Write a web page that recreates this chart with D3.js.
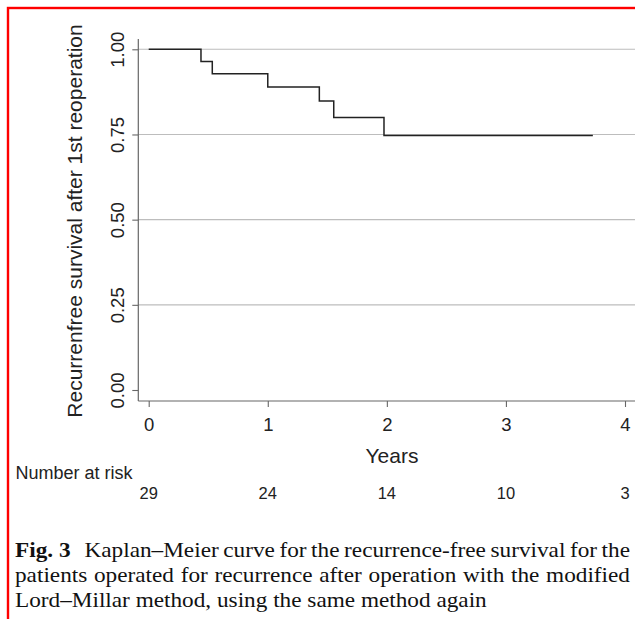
<!DOCTYPE html>
<html>
<head>
<meta charset="utf-8">
<script src="https://cdn.jsdelivr.net/npm/d3@7"></script>
<style>
  html, body { margin: 0; padding: 0; background: #fff; }
  svg { display: block; }
</style>
</head>
<body>
<div id="chart"></div>
<script>
"use strict";
// Kaplan-Meier step points
const years = [0, 0.439, 0.534, 1.0, 1.433, 1.554, 1.976, 3.73];
const survival = [1, 0.964, 0.928, 0.889, 0.848, 0.800, 0.747, 0.747];
const xTicks = [0, 1, 2, 3, 4];
const yTicks = [0, 0.25, 0.5, 0.75, 1];
const riskTimes = [0, 1, 2, 3, 4];
const atRisk = [29, 24, 14, 10, 3];
const captionLines = [
    "Kaplan\u2013Meier curve for the recurrence-free survival for the",
    "patients operated for recurrence after operation with the modified",
    "Lord\u2013Millar method, using the same method again"
];

const W = 635, H = 619;
const sans = "'Liberation Sans', Arial, Helvetica, sans-serif";
const serif = "'Liberation Serif', 'Times New Roman', Times, serif";

const svg = d3.select("#chart").append("svg")
    .attr("width", W)
    .attr("height", H)
    .attr("viewBox", `0 0 ${W} ${H}`);

// plot region (axis lines)
const plot = { left: 138.3, right: 640, top: 39, bottom: 401 };

const x = d3.scaleLinear().domain([0, 4]).range([148.7, 625]);
const y = d3.scaleLinear().domain([0, 1]).range([390, 49.3]);

// grid lines
svg.append("g").selectAll("line")
    .data(yTicks.filter(d => d > 0))
    .join("line")
    .attr("x1", plot.left).attr("x2", plot.right)
    .attr("y1", d => y(d)).attr("y2", d => y(d))
    .attr("stroke", "#bdbdbd")
    .attr("stroke-width", 1.1);

// y axis
const yAxis = svg.append("g")
    .attr("transform", `translate(${plot.left},0)`)
    .call(d3.axisLeft(y).tickValues(yTicks).tickFormat(d3.format(".2f")).tickSize(6).tickSizeOuter(0));
yAxis.select(".domain").remove();
yAxis.selectAll(".tick line").attr("stroke", "#666").attr("stroke-width", 1.1);
yAxis.selectAll(".tick text")
    .attr("transform", "rotate(-90)")
    .attr("x", 0).attr("y", -14.5).attr("dy", null)
    .attr("text-anchor", "middle")
    .attr("fill", "#222")
    .style("font-family", sans).style("font-size", "18.5px");

// x axis
const xAxis = svg.append("g")
    .attr("transform", `translate(0,${plot.bottom})`)
    .call(d3.axisBottom(x).tickValues(xTicks).tickFormat(d3.format("d")).tickSize(6).tickSizeOuter(0));
xAxis.select(".domain").remove();
xAxis.selectAll(".tick line").attr("stroke", "#666").attr("stroke-width", 1.1);
xAxis.selectAll(".tick text")
    .attr("y", 30).attr("dy", null)
    .attr("fill", "#222")
    .style("font-family", sans).style("font-size", "18.5px");

// axis lines
svg.append("line")
    .attr("x1", plot.left).attr("x2", plot.left)
    .attr("y1", plot.top).attr("y2", plot.bottom)
    .attr("stroke", "#666").attr("stroke-width", 1.2);
svg.append("line")
    .attr("x1", plot.left).attr("x2", plot.right)
    .attr("y1", plot.bottom).attr("y2", plot.bottom)
    .attr("stroke", "#666").attr("stroke-width", 1.2);

// survival curve
const km = years.map((t, i) => [t, survival[i]]);
svg.append("path")
    .datum(km)
    .attr("fill", "none")
    .attr("stroke", "#222")
    .attr("stroke-width", 1.5)
    .attr("d", d3.line().x(d => x(d[0])).y(d => y(d[1])).curve(d3.curveStepAfter));

// axis titles
svg.append("text")
    .attr("transform", `translate(82,221) rotate(-90)`)
    .attr("text-anchor", "middle")
    .attr("fill", "#222")
    .style("font-family", sans).style("font-size", "21px")
    .text("Recurrenfree survival after 1st reoperation");
svg.append("text")
    .attr("x", 392).attr("y", 462.5)
    .attr("text-anchor", "middle")
    .attr("fill", "#222")
    .style("font-family", sans).style("font-size", "21px")
    .text("Years");

// number at risk
svg.append("text")
    .attr("x", 15.5).attr("y", 478.5)
    .attr("fill", "#222")
    .style("font-family", sans).style("font-size", "18px")
    .text("Number at risk");
svg.append("g").selectAll("text")
    .data(atRisk)
    .join("text")
    .attr("x", (d, i) => x(riskTimes[i]))
    .attr("y", 499)
    .attr("text-anchor", "middle")
    .attr("fill", "#222")
    .style("font-family", sans).style("font-size", "16.5px")
    .text(d => d);

// caption, justified like the journal layout; the typeface in the
// figure is wider than Times so the group is stretched horizontally
const capLeft = 15, capRight = 630, capSize = 20;
const lastLineWidth = 472;
const baselines = [557, 582, 607];
const cap = svg.append("g").style("font-family", serif).style("font-size", capSize + "px").attr("fill", "#111");

function measure(str, bold) {
    const t = cap.append("text").style("font-weight", bold ? "bold" : "normal").text(str);
    const w = t.node().getComputedTextLength();
    t.remove();
    return w;
}

const space = measure("a a", false) - measure("aa", false);
const lastWords = captionLines[captionLines.length - 1].split(" ");
const lastNatural = d3.sum(lastWords, w => measure(w, false)) + space * (lastWords.length - 1);
const sx = lastLineWidth / lastNatural;
cap.attr("transform", `translate(${capLeft},0) scale(${sx},1)`);
const avail = (capRight - capLeft) / sx;

captionLines.forEach((line, li) => {
    const words = line.split(" ");
    let startX = 0;
    if (li === 0) {
        const lab = cap.append("text")
            .attr("x", 0).attr("y", baselines[0])
            .style("font-weight", "bold")
            .text("Fig. 3");
        startX = lab.node().getComputedTextLength() + 14 / sx;
    }
    const widths = words.map(w => measure(w, false));
    const total = d3.sum(widths);
    const justify = li < captionLines.length - 1;
    const gap = justify ? (avail - startX - total) / (words.length - 1) : space;
    let cx = startX;
    words.forEach((w, i) => {
        cap.append("text").attr("x", cx).attr("y", baselines[li]).text(w);
        cx += widths[i] + gap;
    });
});

// red frame
svg.append("rect")
    .attr("x", 8).attr("y", 8)
    .attr("width", 800).attr("height", 800)
    .attr("fill", "none")
    .attr("stroke", "#ff0000")
    .attr("stroke-width", 2.4);
</script>
</body>
</html>
